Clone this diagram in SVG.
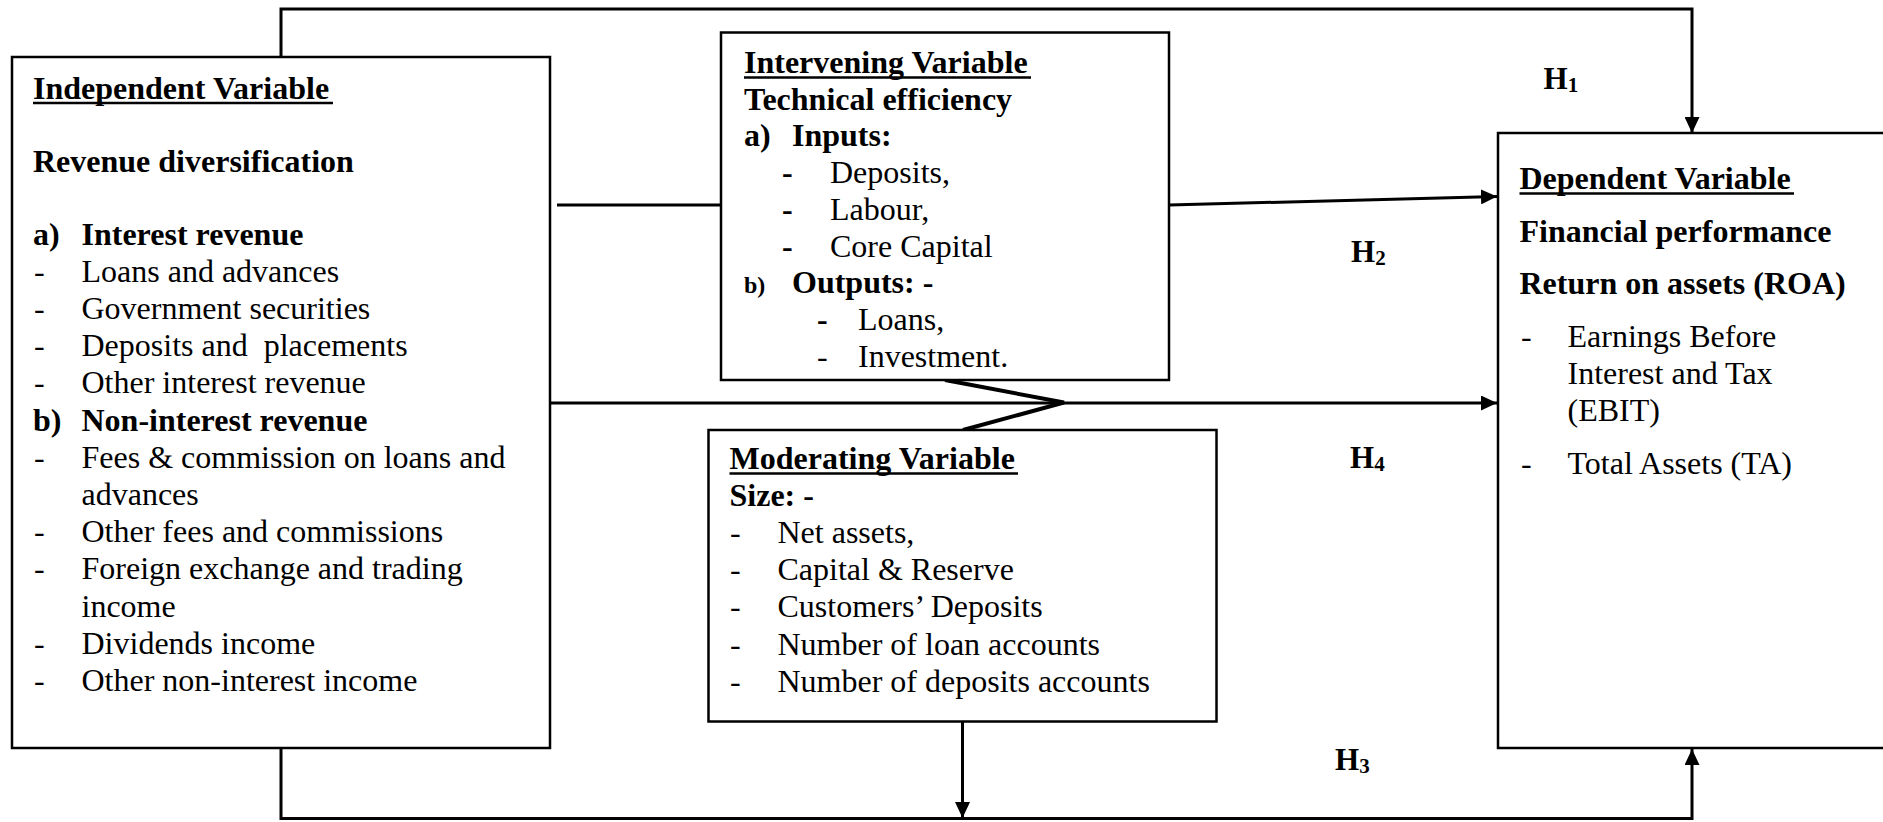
<svg xmlns="http://www.w3.org/2000/svg" width="1883" height="822" viewBox="0 0 1883 822">
<style>
text{font-family:"Liberation Serif","Times New Roman",serif;font-size:32px;fill:#000}
.b{font-weight:bold}
.box{fill:#fff;stroke:#000;stroke-width:2.5}
.ul{stroke:#000;stroke-width:2.5}
.c{fill:none;stroke:#000;stroke-width:3}
.h{font-weight:bold;font-size:31px}
.sub{font-size:21px}
</style>
<defs>
<marker id="arr" markerUnits="userSpaceOnUse" markerWidth="16" markerHeight="15" viewBox="0 0 16 15" refX="16" refY="7.5" orient="auto">
<path d="M0,0 L16,7.5 L0,15 z" fill="#000"/>
</marker>
</defs>
<rect width="1883" height="822" fill="#fff"/>
<g id="connectors">
<path class="c" d="M281,57 V9 H1692 V133" marker-end="url(#arr)"/>
<path class="c" d="M557,205 H721"/>
<path class="c" d="M1169,205 L1497,196.5" marker-end="url(#arr)"/>
<path class="c" d="M551,403 H1497" marker-end="url(#arr)"/>
<path class="c" style="stroke-width:4" d="M945,380 L1064,402.5 L963,430"/>
<path class="c" d="M962.5,721.5 V818" marker-end="url(#arr)"/>
<path class="c" d="M281,748 V818.5 H1692 V749" marker-end="url(#arr)"/>
</g>
<g id="independent">
<rect class="box" x="12" y="57" width="538" height="691"/>
<text class="b" x="33" y="98.5">Independent Variable</text>
<line class="ul" x1="33" y1="103" x2="333" y2="103"/>
<text class="b" x="33" y="171.5">Revenue diversification</text>
<text class="b" x="33" y="244.5">a)</text><text class="b" x="81.5" y="244.5">Interest revenue</text>
<text x="34" y="281.7">-</text><text x="81.5" y="281.7">Loans and advances</text>
<text x="34" y="318.9">-</text><text x="81.5" y="318.9">Government securities</text>
<text x="34" y="356.1">-</text><text x="81.5" y="356.1">Deposits and&#160; placements</text>
<text x="34" y="393.3">-</text><text x="81.5" y="393.3">Other interest revenue</text>
<text class="b" x="33" y="430.5">b)</text><text class="b" x="81.5" y="430.5">Non-interest revenue</text>
<text x="34" y="467.7">-</text><text x="81.5" y="467.7">Fees &amp; commission on loans and</text>
<text x="81.5" y="504.9">advances</text>
<text x="34" y="542.1">-</text><text x="81.5" y="542.1">Other fees and commissions</text>
<text x="34" y="579.3">-</text><text x="81.5" y="579.3">Foreign exchange and trading</text>
<text x="81.5" y="616.5">income</text>
<text x="34" y="653.7">-</text><text x="81.5" y="653.7">Dividends income</text>
<text x="34" y="690.9">-</text><text x="81.5" y="690.9">Other non-interest income</text>
</g>
<g id="intervening">
<rect class="box" x="721" y="32.5" width="448" height="347.5"/>
<text class="b" x="744" y="72.7">Intervening Variable</text>
<line class="ul" x1="744" y1="77.5" x2="1031" y2="77.5"/>
<text class="b" x="744" y="109.5">Technical efficiency</text>
<text class="b" x="744" y="146.2">a)</text><text class="b" x="792" y="146.2">Inputs:</text>
<text class="b" x="782" y="183">-</text><text x="830" y="183">Deposits,</text>
<text class="b" x="782" y="219.7">-</text><text x="830" y="219.7">Labour,</text>
<text class="b" x="782" y="256.5">-</text><text x="830" y="256.5">Core Capital</text>
<text class="b" x="744" y="293.2" style="font-size:24px">b)</text><text class="b" x="792" y="293.2">Outputs: -</text>
<text class="b" x="817" y="330">-</text><text x="858" y="330">Loans,</text>
<text x="817" y="366.7">-</text><text x="858" y="366.7">Investment.</text>
</g>
<g id="moderating">
<rect class="box" x="708.5" y="430" width="508" height="291.5"/>
<text class="b" x="729.5" y="468.5">Moderating Variable</text>
<line class="ul" x1="729.5" y1="473.5" x2="1018" y2="473.5"/>
<text class="b" x="729.5" y="505.7">Size: -</text>
<text x="730" y="542.9">-</text><text x="777.5" y="542.9">Net assets,</text>
<text x="730" y="580.1">-</text><text x="777.5" y="580.1">Capital &amp; Reserve</text>
<text x="730" y="617.3">-</text><text x="777.5" y="617.3">Customers’ Deposits</text>
<text x="730" y="654.5">-</text><text x="777.5" y="654.5">Number of loan accounts</text>
<text x="730" y="691.7">-</text><text x="777.5" y="691.7">Number of deposits accounts</text>
</g>
<g id="dependent">
<rect class="box" x="1498" y="133" width="420" height="615"/>
<text class="b" x="1519.5" y="188.5">Dependent Variable</text>
<line class="ul" x1="1519.5" y1="193.5" x2="1794" y2="193.5"/>
<text class="b" x="1519.5" y="242">Financial performance</text>
<text class="b" x="1519.5" y="294">Return on assets (ROA)</text>
<text x="1521" y="346.5">-</text><text x="1567.5" y="346.5">Earnings Before</text>
<text x="1567.5" y="383.5">Interest and Tax</text>
<text x="1567.5" y="420.5">(EBIT)</text>
<text x="1521" y="474">-</text><text x="1567.5" y="474">Total Assets (TA)</text>
</g>
<g id="labels">
<text class="h" x="1543.5" y="88.5">H<tspan class="sub" dy="3">1</tspan></text>
<text class="h" x="1351" y="262">H<tspan class="sub" dy="3">2</tspan></text>
<text class="h" x="1350" y="468">H<tspan class="sub" dy="3">4</tspan></text>
<text class="h" x="1335" y="770">H<tspan class="sub" dy="3">3</tspan></text>
</g>
</svg>
